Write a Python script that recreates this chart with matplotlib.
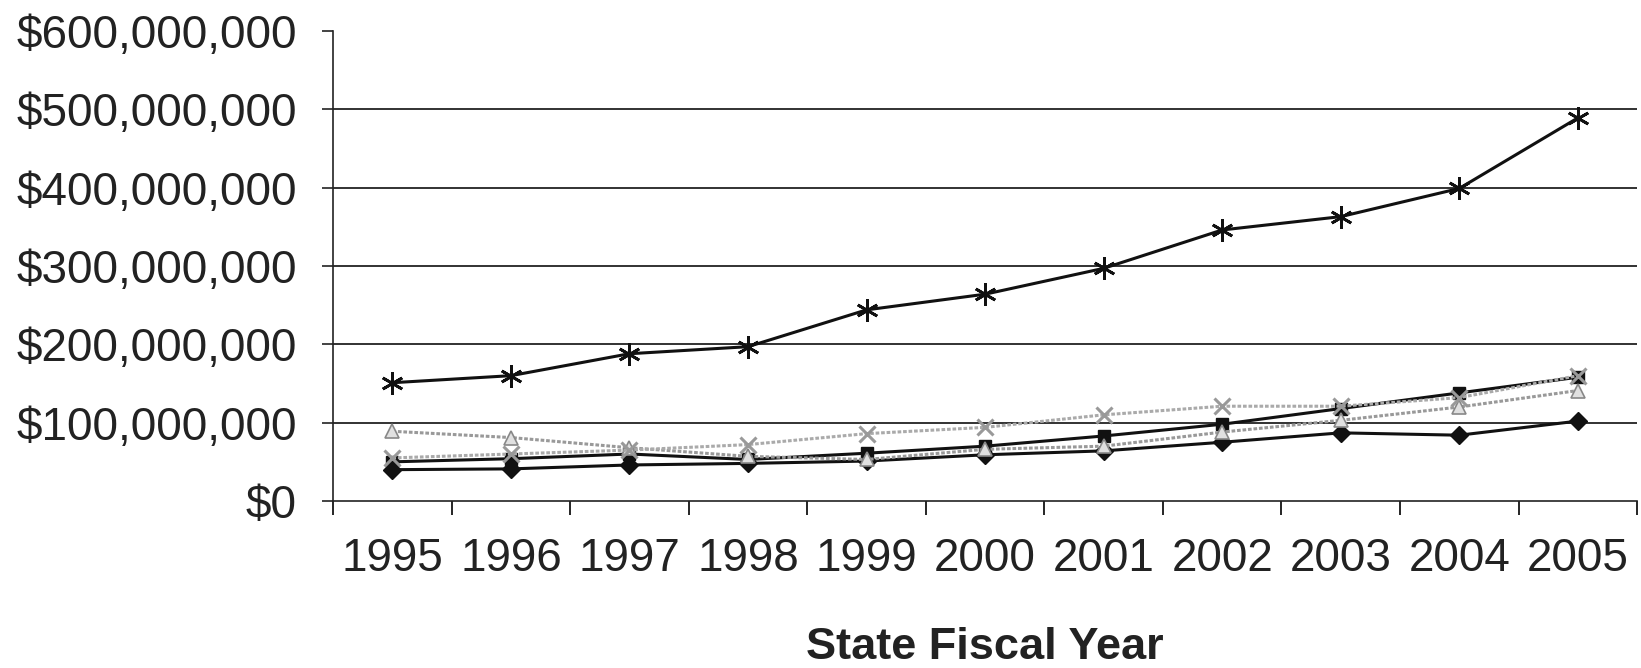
import matplotlib
matplotlib.use("Agg")
import matplotlib.pyplot as plt
from matplotlib.ticker import FuncFormatter, FixedLocator
import numpy as np

plt.rcParams['font.family'] = ['Liberation Sans', 'DejaVu Sans']

years = ['1995', '1996', '1997', '1998', '1999', '2000', '2001', '2002', '2003', '2004', '2005']

# values in millions of dollars
diamond_vals = [40, 41, 46, 48, 51, 59, 64, 75, 87, 84, 102]
square_vals = [50, 54, 60, 53, 61, 70, 83, 98, 118, 138, 158]
triangle_vals = [89, 81, 68, 57, 53, 66, 70, 88, 103, 120, 141]
xmark_vals = [55, 60, 65, 72, 86, 94, 110, 121, 121, 132, 160]
star_vals = [151, 160, 188, 197, 244, 264, 297, 346, 363, 399, 489]

yticks = [0, 100, 200, 300, 400, 500, 600]

fig = plt.figure(figsize=(16.41, 6.68), dpi=100)
ax = fig.add_axes([0.203, 0.25, 0.7946, 0.7036])

x = np.arange(len(years))
M = 1e6

ax.plot(x, np.array(diamond_vals) * M, color='#111111', lw=2.2, marker='D', ms=9,
        mfc='#111111', mec='#111111', zorder=3)
ax.plot(x, np.array(square_vals) * M, color='#111111', lw=2.2, marker='s', ms=8,
        mfc='#111111', mec='#111111', zorder=4)
ax.plot(x, np.array(triangle_vals) * M, color='#999999', lw=2.2, ls=(0, (1.2, 0.6)),
        marker='^', ms=10, mfc='#e0e0e0', mec='#888888', mew=1.2, zorder=5)
ax.plot(x, np.array(xmark_vals) * M, color='#aaaaaa', lw=2.2, ls=(0, (1.2, 0.6)),
        marker='x', ms=11, mec='#999999', mew=2.2, zorder=6)
ax.plot(x, np.array(star_vals) * M, color='#111111', lw=2.2, marker=(6, 2, 0), ms=16,
        mec='#111111', mew=2.0, zorder=7)

ax.set_xlim(-0.5, len(years) - 0.5)
ax.set_ylim(0, 600 * M)

ax.set_yticks([v * M for v in yticks])
ax.yaxis.set_major_formatter(FuncFormatter(lambda v, p: '${:,.0f}'.format(v)))
for v in yticks[1:-1]:
    ax.axhline(v * M, color='#222222', lw=1.3, zorder=1)

ax.xaxis.set_major_locator(FixedLocator(np.arange(-0.5, len(years), 1.0)))
ax.xaxis.set_minor_locator(FixedLocator(x))
ax.set_xticklabels([])
ax.set_xticklabels(years, minor=True)

ax.tick_params(axis='y', which='major', length=8, width=1.2, pad=18,
               labelsize=33, colors='#222222')
ax.tick_params(axis='x', which='major', length=10, width=1.2, direction='out')
ax.tick_params(axis='x', which='minor', length=0, pad=26, labelsize=33,
               labelcolor='#222222')

for s in ['top', 'right']:
    ax.spines[s].set_visible(False)
ax.spines['left'].set_linewidth(1.2)
ax.spines['bottom'].set_linewidth(1.2)
ax.spines['left'].set_color('#222222')
ax.spines['bottom'].set_color('#222222')

ax.set_xlabel('State Fiscal Year', fontsize=32.5, fontweight='bold', labelpad=33,
              color='#222222')

fig.savefig('out.png', dpi=100)
